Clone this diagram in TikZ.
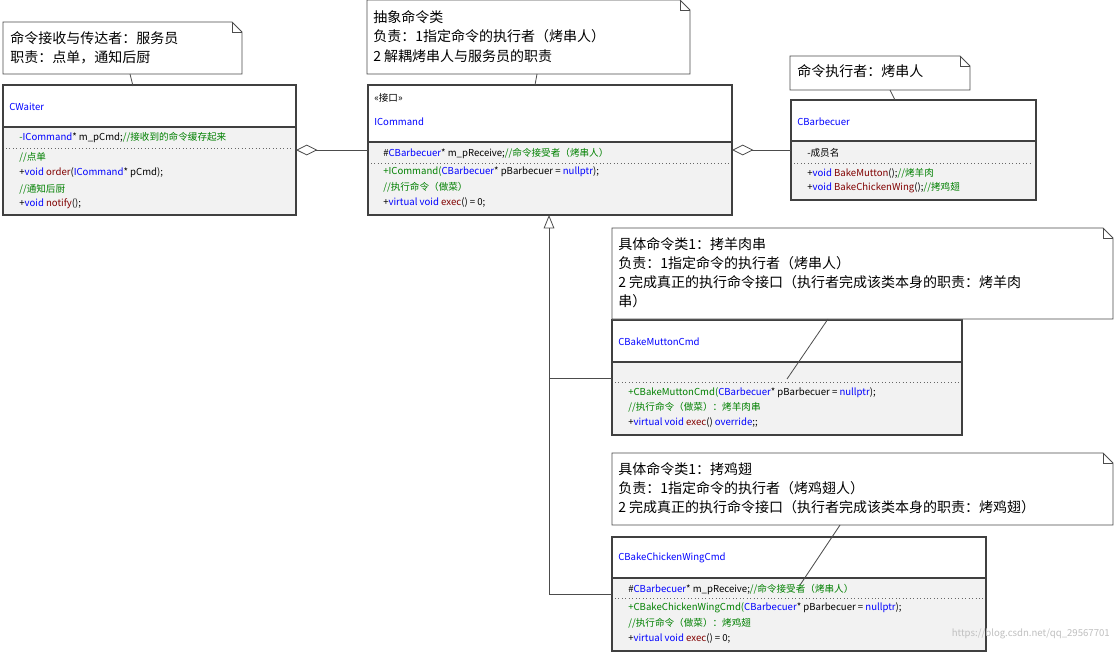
\documentclass[tikz,border=0pt]{standalone}
\usepackage{fontspec}
\setmainfont{Noto Sans CJK SC}
\usetikzlibrary{arrows.meta}
\definecolor{kb}{RGB}{0,0,255}
\definecolor{kg}{RGB}{0,128,0}
\definecolor{kr}{RGB}{128,0,0}
\definecolor{bgc}{RGB}{242,242,242}
\newcommand{\B}[1]{\textcolor{kb}{#1}}
\newcommand{\G}[1]{\textcolor{kg}{#1}}
\newcommand{\R}[1]{\textcolor{kr}{#1}}
\tikzset{
 x=0.75pt,y=-0.75pt,
 tx/.style={anchor=west,inner sep=0pt,font=\fontsize{7.2}{8}\selectfont},
 nt/.style={anchor=west,inner sep=0pt,font=\fontsize{10.5}{12}\selectfont},
 cls/.style={draw=black!75,line width=0.8pt},
 ln/.style={draw=black!70,line width=0.6pt},
 dots/.style={draw=black!60,dotted,line width=0.6pt}
}
\newcommand{\note}[5]{% name x1 y1 x2 y2
 \draw[ln,fill=white] (#2,#3) -- (#4-10,#3) -- (#4,#3+10) -- (#4,#5) -- (#2,#5) -- cycle;
 \draw[ln] (#4-10,#3) -- (#4-10,#3+10) -- (#4,#3+10);
 \coordinate (#1) at (#2,#3);}
\newcommand{\cls}[7]{% name x1 y1 x2 y2 divider dotted
 \draw[cls,fill=white] (#2,#3) rectangle (#4,#6);
 \draw[cls,fill=bgc] (#2,#6) rectangle (#4,#5);
 \draw[dots] (#2+3,#7) -- (#4-3,#7);
 \coordinate (#1) at (#2,#3);}
\begin{document}
\begin{tikzpicture}
\useasboundingbox[fill=white] (0,0) rectangle (1116,653);
% classes
\cls{waiter}{3}{85}{296}{215}{127}{148}
\cls{icmd}{368}{85}{732}{215}{142}{163}
\cls{barb}{791}{100}{1036}{200}{141}{163}
\cls{mutton}{612}{320}{962}{435}{362}{382}
\cls{chick}{612}{537}{986}{651}{578}{598}
% connectors
\coordinate (wR) at (296,150); \coordinate (iL) at (368,150);
\coordinate (iR) at (732,150); \coordinate (bL) at (791,150);
\draw[ln,{Diamond[open,length=16pt,width=8pt]}-] (wR) -- (iL);
\draw[ln,{Diamond[open,length=16pt,width=8pt]}-] (iR) -- (bL);
\coordinate (iB) at (549,215); \coordinate (mL) at (612,378); \coordinate (cL) at (612,594);
\draw[ln,{Triangle[open,length=10pt,width=8pt]}-] (iB) -- (549,594) -- (cL);
\draw[ln] (549,378) -- (mL);
% notes
\note{n1}{3}{22}{242}{74}
\note{n2}{367}{0}{690}{74}
\note{n3}{790}{56}{970}{90}
\note{n4}{612}{228}{1113}{319}
\note{n5}{612}{453}{1113}{525}
\draw[ln] (130,74) -- (133,86);
\draw[ln] (537,74) -- (535,85);
\draw[ln] (890,90) -- (895,100);
\draw[ln] (828,319) -- (787,379);
\draw[ln] (840,525) -- (800,585);
% note texts
\node[nt] at (10,38) {命令接收与传达者：服务员};
\node[nt] at (10,57) {职责：点单，通知后厨};
\node[nt] at (373,17) {抽象命令类};
\node[nt] at (373,36) {负责：1指定命令的执行者（烤串人）};
\node[nt] at (373,56) {2 解耦烤串人与服务员的职责};
\node[nt] at (797,71) {命令执行者：烤串人};
\node[nt] at (618,244) {具体命令类1：拷羊肉串};
\node[nt] at (618,263) {负责：1指定命令的执行者（烤串人）};
\node[nt] at (618,282) {2 完成真正的执行命令接口（执行者完成该类本身的职责：烤羊肉};
\node[nt] at (618,301) {串）};
\node[nt] at (618,469) {具体命令类1：拷鸡翅};
\node[nt] at (618,488) {负责：1指定命令的执行者（烤鸡翅人）};
\node[nt] at (618,507) {2 完成真正的执行命令接口（执行者完成该类本身的职责：烤鸡翅）};
% class texts
\node[tx] at (9,107) {\B{CWaiter}};
\node[tx] at (19,138) {\G{-}\B{ICommand}* m\_pCmd;\G{//接收到的命令缓存起来}};
\node[tx] at (19,157) {\G{//点单}};
\node[tx] at (19,173) {+\B{void} \R{order}(\B{ICommand}* pCmd);};
\node[tx] at (19,189) {\G{//通知后厨}};
\node[tx] at (19,204) {+\B{void} \R{notify}();};
\node[tx] at (374,98) {<<接口>>};
\node[tx] at (374,122) {\B{ICommand}};
\node[tx] at (383,153) {\#\B{CBarbecuer}* m\_pReceive;\G{//命令接受者（烤串人）}};
\node[tx] at (383,172) {\G{+ICommand(}\B{CBarbecuer}* pBarbecuer = \B{nullptr});};
\node[tx] at (383,187) {\G{//执行命令（做菜）}};
\node[tx] at (383,203) {+\B{virtual void} \R{exec}() = 0;};
\node[tx] at (797,122) {\B{CBarbecuer}};
\node[tx] at (807,153) {-成员名};
\node[tx] at (807,173) {+\B{void} \R{BakeMutton}();\G{//烤羊肉}};
\node[tx] at (807,188) {+\B{void} \R{BakeChickenWing}();\G{//拷鸡翅}};
\node[tx] at (618,342) {\B{CBakeMuttonCmd}};
\node[tx] at (628,393) {\G{+CBakeMuttonCmd(}\B{CBarbecuer}* pBarbecuer = \B{nullptr});};
\node[tx] at (628,407) {\G{//执行命令（做菜）：烤羊肉串}};
\node[tx] at (628,423) {+\B{virtual void} \R{exec}() \B{override};;};
\node[tx] at (618,558) {\B{CBakeChickenWingCmd}};
\node[tx] at (628,589) {\#\B{CBarbecuer}* m\_pReceive;\G{//命令接受者（烤串人）}};
\node[tx] at (628,608) {\G{+CBakeChickenWingCmd(}\B{CBarbecuer}* pBarbecuer = \B{nullptr});};
\node[tx] at (628,623) {\G{//执行命令（做菜）：烤鸡翅}};
\node[tx] at (628,639) {+\B{virtual void} \R{exec}() = 0;};
\node[tx,text=black!25,anchor=east] at (1110,634) {https://blog.csdn.net/qq\_29567701};
\end{tikzpicture}
\end{document}
